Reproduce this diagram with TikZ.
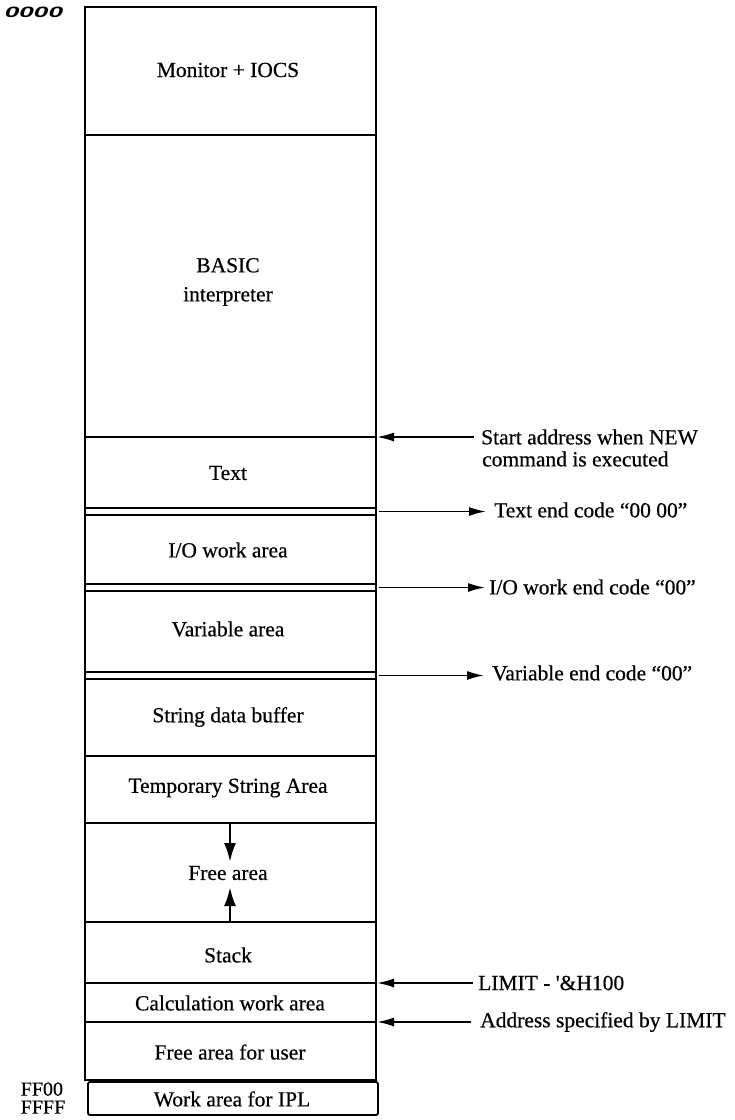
\documentclass[tikz,border=0pt]{standalone}
\usepackage{fontspec}
\setmainfont{Liberation Serif}[FakeBold=0.5]
\setsansfont{Liberation Sans}
\usetikzlibrary{arrows.meta}
\begin{document}
\begin{tikzpicture}[x=1pt,y=-1pt,
  wall/.style={line width=1.8pt},
  sep/.style={line width=1.5pt},
  area/.style={font=\fontsize{21.5}{27}\selectfont, align=center, inner sep=0pt},
  note/.style={font=\fontsize{21.5}{22}\selectfont, anchor=west, align=left, inner sep=0pt},
  ptr/.style={line width=1.7pt, -{Latex[length=17pt,width=9pt]}},
  growarrow/.style={line width=2.6pt, -{Latex[length=19pt,width=12pt]}}]
\useasboundingbox (0,0) rectangle (735,1120);
% outer box
\draw[wall] (85,7) rectangle (376,1080);
\draw[wall, rounded corners=2pt] (88,1082) rectangle (378,1115);
% separators
\foreach \y in {135,437,508,515,584,591,672,679,756,823,922,983,1022}
  \draw[sep] (85,\y) -- (376,\y);
% right edge anchor coordinates
\coordinate (eNew) at (377,437);
\coordinate (eText) at (379,511.5);
\coordinate (eIO) at (379,587.5);
\coordinate (eVar) at (379,675.5);
\coordinate (eLim) at (377,983);
\coordinate (eAdr) at (377,1022);
% area labels
\node[area] (mon) at (228,70) {Monitor + IOCS};
\node[area] (basic) at (228,282) {BASIC\\[2pt]interpreter};
\node[area] (text) at (228,473) {Text};
\node[area] (io) at (228,550) {I/O work area};
\node[area] (var) at (228,629) {Variable area};
\node[area] (str) at (228,717) {String data buffer};
\node[area] (tmp) at (228,788) {Temporary String Area};
\node[area] (free) at (228,873) {Free area};
\node[area] (stack) at (228,955) {Stack};
\node[area] (calc) at (230,1003) {Calculation work area};
\node[area] (user) at (230,1052) {Free area for user};
\node[area] (ipl) at (232,1099) {Work area for IPL};
% address labels
\node[font=\sffamily\bfseries\itshape\fontsize{15}{15}\selectfont, xscale=1.75, inner sep=0pt] (a0) at (34,12) {0000};
\node[font=\fontsize{20}{18}\selectfont, align=left, inner sep=0pt] (aff) at (43,1098) {FF00\\FFFF};
% growth arrows in free area
\coordinate (fTop) at (230,823);
\coordinate (fBot) at (230,922);
\draw[growarrow] (fTop) -- (230,862);
\draw[growarrow] (fBot) -- (230,887);
% notes
\node[note] (nNew) at (481,448) {Start address when NEW\\\hspace*{1pt}command is executed};
\node[note] (nText) at (494,510) {Text end code “00 00”};
\node[note] (nIO) at (489,587) {I/O work end code “00”};
\node[note] (nVar) at (492,673) {Variable end code “00”};
\node[note] (nLim) at (478,983) {LIMIT - \textquotesingle\&H100};
\node[note] (nAdr) at (480,1022) {Address specified by LIMIT};
% pointers
\draw[ptr, shorten <=7pt] (nNew.west |- eNew) -- (eNew);
\draw[ptr, shorten >=8pt] (eText) -- (eText -| nText.west);
\draw[ptr, shorten >=4pt] (eIO) -- (eIO -| nIO.west);
\draw[ptr, shorten >=8pt] (eVar) -- (eVar -| nVar.west);
\draw[ptr, shorten <=5pt] (nLim.west |- eLim) -- (eLim);
\draw[ptr, shorten <=9pt] (nAdr.west |- eAdr) -- (eAdr);
\end{tikzpicture}
\end{document}
